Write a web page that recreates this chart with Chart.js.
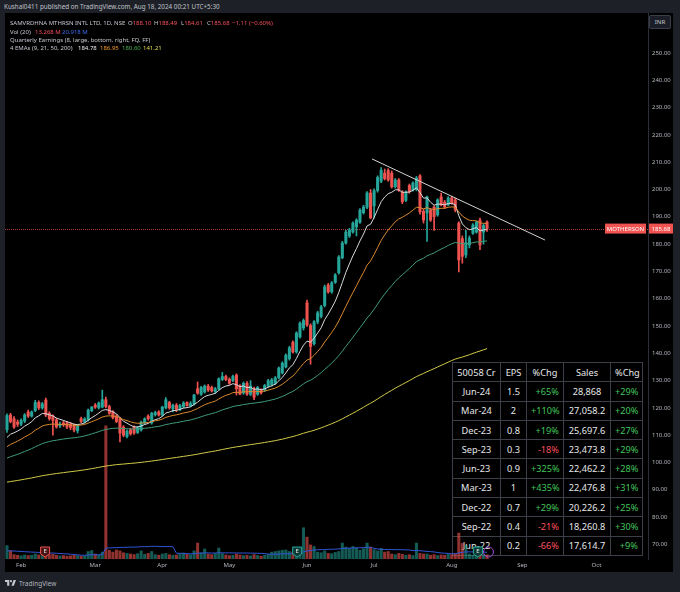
<!DOCTYPE html>
<html>
<head>
<meta charset="utf-8">
<script src="https://cdn.jsdelivr.net/npm/chart.js@4.4.1/dist/chart.umd.min.js"></script>
<style>
  html, body { margin: 0; padding: 0; width: 680px; height: 592px; overflow: hidden; background: #1d2027; font-family: "Noto Sans", Roboto, sans-serif; }
  #plotbg { position: absolute; left: 5px; top: 13px; width: 668px; height: 559px; background: #000; }
  #wrap { position: absolute; left: 5px; top: 13px; width: 668px; height: 559px; }
  .t { position: absolute; white-space: nowrap; line-height: 8px; font-size: 6px; color: #c3c6ce; }
  #earn { position: absolute; left: 452px; top: 362px; border-collapse: collapse; table-layout: fixed; background: #000; }
  #earn td { border: 1px solid #3c3f47; height: 19.3px; padding: 0 4px; box-sizing: border-box; font-size: 9.2px; color: #e6e7ea; text-align: center; white-space: nowrap; }
  #earn td.r { text-align: right; }
  #inr { position: absolute; left: 649px; top: 15px; width: 22px; height: 14px; box-sizing: border-box; border: 1px solid #3a3e48; border-radius: 2px; background: #1b1e26; color: #c3c6ce; font-size: 6px; line-height: 12px; text-align: center; }
  #foot { position: absolute; left: 5px; top: 578px; height: 10px; display: flex; align-items: center; gap: 3px; color: #b2b5be; font-size: 6.5px; }
</style>
</head>
<body>
<div id="plotbg"></div>
<table id="earn"></table>
<div id="wrap"><canvas id="chart" width="668" height="559"></canvas></div>

<div class="t" style="left:4px;top:3px;color:#c0c3ca;font-size:6.3px;">Kushal0411 published on TradingView.com, Aug 18, 2024 00:21 UTC+5:30</div>
<div class="t" style="left:10px;top:19px;">SAMVRDHNA MTHRSN INTL LTD, 1D, NSE</div>
<div class="t" style="left:128px;top:19px;">O<span style="color:#f7525f">188.10</span></div>
<div class="t" style="left:154px;top:19px;">H<span style="color:#f7525f">188.49</span></div>
<div class="t" style="left:181px;top:19px;">L<span style="color:#f7525f">184.61</span></div>
<div class="t" style="left:207px;top:19px;">C<span style="color:#f7525f">185.68</span></div>
<div class="t" style="left:232px;top:19px;color:#f7525f;">−1.11 (−0.60%)</div>
<div class="t" style="left:10px;top:28px;">Vol (20)</div>
<div class="t" style="left:35px;top:28px;color:#f7525f;">13.268 M</div>
<div class="t" style="left:62px;top:28px;color:#3f6ef0;">20.918 M</div>
<div class="t" style="left:10px;top:36px;">Quarterly Earnings (8, large, bottom, right, FQ, FF)</div>
<div class="t" style="left:10px;top:44px;">4 EMAs (9, 21, 50, 200)</div>
<div class="t" style="left:78px;top:44px;color:#e6e7ea;">184.78</div>
<div class="t" style="left:100px;top:44px;color:#f39c35;">186.95</div>
<div class="t" style="left:122px;top:44px;color:#4caf50;">180.60</div>
<div class="t" style="left:143px;top:44px;color:#e3dc4e;">141.21</div>
<div id="inr">INR</div>
<div id="foot">
  <svg width="11" height="8" viewBox="0 0 36 26"><path d="M14 22H7V10H0V3h14v19zM29 22h-8l7-19h8L29 22z" fill="#c3c6ce"/><circle cx="19.5" cy="7" r="3.6" fill="#c3c6ce"/></svg>
  <span>TradingView</span>
</div>

<script>
// daily candles, Jan 25 - Aug 16 2024 (one entry per trading day)
const opens = [
  112, 117.4, 116, 114.8, 114, 115.2, 118.5, 117, 119, 122,
  120, 122.9, 118, 117, 115.6, 113.5, 114.5, 114.5, 114, 113.7,
  111.6, 116, 115, 115.6, 119, 121, 120, 120.3, 123, 120.5,
  118.5, 117, 116, 113, 109.5, 112, 113, 111, 111.9, 114.5,
  117, 114.5, 117.5, 118.5, 117.4, 120, 122, 119.6, 121, 119.5,
  120.5, 122, 120.8, 121.4, 127, 125, 125.8, 128, 127.5, 126,
  127, 130.4, 131.5, 130.5, 130, 132, 128, 125.5, 129, 125,
  127, 125, 126.5, 126.6, 128, 128.5, 129, 131, 132.8, 135,
  138, 144, 140.5, 146, 149.3, 158.5, 150.2, 143.5, 151.5, 153.5,
  157.5, 165, 162.5, 166, 169.5, 175, 180.4, 183, 184.4, 186.3,
  188, 191.5, 193.5, 198.7, 194, 199.6, 203, 206, 207, 206,
  201, 203.5, 199, 196, 201.5, 199.8, 200, 205, 192, 191.4,
  192.5, 193.6, 190.7, 197.3, 195.4, 194.4, 196.9, 196.2, 187.7, 182,
  176, 179.7, 184, 184.4, 188.8, 184.4, 188.10
];
const highs = [
  117.8, 118, 116.8, 115.6, 116, 117.9, 119.2, 118.9, 122.8, 122.6,
  122, 123.6, 118.6, 117.5, 116.2, 114.8, 115.2, 115, 114.6, 114.2,
  114, 116.6, 116.4, 119.6, 120.5, 121.6, 122.2, 126.5, 124, 121,
  119, 117.6, 116.5, 113.5, 112, 112.5, 113.4, 113.2, 115.2, 116.4,
  117.5, 118.4, 118.8, 119, 120.6, 123.8, 122.4, 121.4, 121.6, 121.3,
  122.3, 122.2, 122.3, 125, 129.5, 127.9, 128.4, 128.6, 128, 127.5,
  131, 133, 132, 131, 132, 132.5, 128.5, 129.5, 129.6, 130,
  127.6, 127.9, 127, 128.6, 130.5, 130.8, 131.5, 135, 136.9, 139.8,
  142.6, 144.6, 147.9, 151.5, 152.6, 159.5, 150.8, 152, 155.4, 157.6,
  165, 165.6, 166.3, 169.2, 175.8, 181, 185, 185.8, 188.2, 189.3,
  193, 194.2, 199.2, 200, 200.2, 205, 208, 207.5, 207.6, 206.8,
  204, 204, 199.6, 199.5, 202, 202.8, 204.8, 205.5, 192.8, 197.6,
  193, 194, 196.6, 198.7, 196, 197.4, 197.5, 196.8, 188.2, 183,
  185, 183, 187.5, 188.4, 189.5, 187.4, 188.49
];
const lows = [
  111, 114.5, 112.5, 113.2, 113.5, 114.6, 116.5, 116.6, 118.6, 119.4,
  119.5, 116.8, 115.5, 110, 112.6, 112.8, 113.2, 112.4, 112, 111.2,
  110.8, 114.6, 114.5, 115.2, 118.6, 119.8, 119.6, 120, 120, 117.6,
  116, 114.6, 107.5, 109.4, 109, 110, 110.3, 110.6, 111.5, 114,
  115.5, 114, 117, 117, 117, 119.6, 119.5, 118.5, 118.6, 119,
  120, 120.6, 120.4, 121, 125, 124.6, 125.4, 126, 125.8, 125.4,
  126.6, 130, 130, 128.6, 129.6, 124.7, 124.8, 125, 124.6, 124.5,
  123, 124.6, 125, 126, 127.6, 128, 128.6, 130.6, 132.4, 134.6,
  137.5, 140, 140, 145.5, 148.5, 149.8, 136, 143, 150.8, 153,
  157, 162, 162, 165.6, 169, 174.6, 180, 182.4, 184, 183,
  187.6, 191, 193, 189.3, 189.5, 199, 202.5, 203.5, 203, 200.5,
  200.5, 199.3, 194.8, 195.5, 198.6, 199.4, 199.5, 191, 187.7, 181,
  188.3, 185, 190.2, 194, 193, 194, 194.6, 191.8, 169.8, 173,
  175, 178.6, 183.5, 184, 178, 180, 184.61
];
const closes = [
  117.2, 115, 113, 114, 115.4, 117.4, 117, 118.5, 122, 120,
  121.5, 117.4, 116, 115.5, 113, 114, 113.8, 113, 112.8, 111.9,
  113.5, 115, 116, 119.2, 120.3, 120.3, 121.8, 123, 120.5, 118,
  116.4, 115, 110.8, 110, 111.5, 110.5, 110.8, 112.8, 114.8, 116,
  116, 118, 118.3, 117.4, 120.3, 123, 120, 121, 119.5, 120.9,
  121.8, 120.8, 121.6, 124.7, 125.4, 127.5, 128, 126.5, 126.2, 127,
  130.7, 131.5, 130.4, 129, 131.5, 127, 125, 129, 125, 128,
  123.9, 127.5, 125.5, 128.2, 130, 130.3, 131, 134.6, 136.4, 139.3,
  142, 140.5, 147.4, 151, 152, 150.4, 142.5, 151.5, 154.8, 157,
  164.3, 162.5, 165.8, 168.7, 175.3, 180.4, 184.4, 185.2, 187.7, 188.8,
  192.5, 193.6, 198.7, 189.6, 199.6, 204.4, 207, 204, 203.5, 201,
  203.5, 199.8, 195.5, 199, 199.3, 202.4, 204.2, 191.8, 188.8, 197.3,
  188.8, 190, 196.2, 194.4, 193.6, 196.9, 195, 192.5, 174.2, 175.5,
  180.5, 182.2, 187, 188, 179.7, 186.79, 185.68
];
// volume in millions of shares
const volumes = [
  43, 27, 14, 12, 10, 13, 11, 12, 16, 13,
  12, 18, 14, 15, 12, 10, 11, 9, 10, 12,
  11, 9, 10, 24, 27, 16, 12, 22, 426, 28,
  22, 29, 26, 20, 18, 16, 14, 17, 26, 15,
  18, 24, 14, 12, 16, 18, 14, 12, 13, 17,
  19, 15, 14, 26, 51, 20, 32, 16, 14, 18,
  35, 17, 13, 11, 12, 16, 13, 11, 12, 10,
  14, 11, 9, 12, 15, 22, 24, 26, 28, 29,
  24, 22, 30, 34, 100, 70, 45, 40, 22, 20,
  26, 18, 17, 21, 24, 51, 38, 34, 40, 36,
  28, 33, 51, 38, 30, 26, 34, 22, 24, 16,
  14, 18, 15, 12, 14, 11, 51, 18, 16, 16,
  12, 14, 11, 13, 12, 15, 14, 18, 83, 50,
  44, 16, 12, 10, 18, 14, 13.268
];

const monthIdx = [4, 25, 44, 63, 85, 104, 126, 146, 167];
const monthLabels = ['Feb', 'Mar', 'Apr', 'May', 'Jun', 'Jul', 'Aug', 'Sep', 'Oct'];
const priceTicks = [70, 80, 90, 100, 110, 120, 130, 140, 150, 160, 170, 180, 190, 200, 210, 220, 230, 240, 250];

const emaPeriods = [9, 21, 50, 200];
const emaFirst = [109.2, 105.8, 101.6, 92.8];   // indicator values at the first visible bar
const emaColors = ['#d8dade', '#d98a2e', '#3f9c78', '#d2cb48'];
const volMaFirst = 25;

const trendIdx = [103.4, 152.4];
const trendPrice = [211.2, 181.5];

const earnIdx = [10.8, 82.2, 133.4];
const earnBeat = [false, true, true];

const tableHead = ['50058 Cr', 'EPS', '%Chg', 'Sales', '%Chg'];
const quarters = ['Jun-24', 'Mar-24', 'Dec-23', 'Sep-23', 'Jun-23', 'Mar-23', 'Dec-22', 'Sep-22', 'Jun-22'];
const eps = ['1.5', '2', '0.8', '0.3', '0.9', '1', '0.7', '0.4', '0.2'];
const epsChg = ['+65%', '+110%', '+19%', '-18%', '+325%', '+435%', '+29%', '-21%', '-66%'];
const sales = ['28,868', '27,058.2', '25,697.6', '23,473.8', '22,462.2', '22,476.8', '20,226.2', '18,260.8', '17,614.7'];
const salesChg = ['+29%', '+20%', '+27%', '+29%', '+28%', '+31%', '+25%', '+30%', '+9%'];

// ---- table
const colW = [48, 26, 37, 47, 32];
const tbl = document.getElementById('earn');
let html = '<colgroup>' + colW.map(w => `<col style="width:${w}px">`).join('') + '</colgroup>';
html += '<tr>' + tableHead.map(h => `<td>${h}</td>`).join('') + '</tr>';
const pc = s => `color:${s.startsWith('-') ? '#f7525f' : '#43c35b'}`;
quarters.forEach((q, i) => {
  html += `<tr><td>${q}</td><td>${eps[i]}</td><td class="r" style="${pc(epsChg[i])}">${epsChg[i]}</td>` +
          `<td>${sales[i]}</td><td class="r" style="${pc(salesChg[i])}">${salesChg[i]}</td></tr>`;
});
tbl.innerHTML = html;
tbl.style.width = colW.reduce((a, b) => a + b, 0) + 'px';

// ---- indicators
function emaSeries(src, period, first) {
  const k = 2 / (period + 1);
  const out = [first];
  for (let i = 1; i < src.length; i++) out.push(out[i - 1] + k * (src[i] - out[i - 1]));
  return out;
}
function smaSeries(src, n, before) {
  return src.map((_, i) => {
    const w = src.slice(Math.max(0, i - n + 1), i + 1);
    while (w.length < n) w.push(before);
    return w.reduce((a, b) => a + b, 0) / n;
  });
}

const UP = '#26a69a', DOWN = '#ef5350';
const isUp = closes.map((c, i) => c >= opens[i]);
const pts = arr => arr.map((v, i) => ({ x: i, y: v }));

const xMin = -0.567, xMax = 181.6;
const yMin = 64.65, yMax = 264.65;
const volMax = 1747;

const datasets = [
  {
    type: 'bar', yAxisID: 'yv', order: 20, grouped: false, barThickness: 2.4,
    data: pts(volumes),
    backgroundColor: isUp.map(u => u ? 'rgba(38,166,154,0.55)' : 'rgba(239,83,80,0.6)')
  },
  {
    type: 'line', yAxisID: 'yv', order: 19, data: pts(smaSeries(volumes, 20, volMaFirst)),
    borderColor: '#2f56d8', borderWidth: 1, pointRadius: 0
  },
  {
    type: 'bar', order: 12, grouped: false, barThickness: 1,
    data: lows.map((l, i) => ({ x: i, y: [l, highs[i]] })),
    backgroundColor: isUp.map(u => u ? UP : DOWN)
  },
  {
    type: 'bar', order: 11, grouped: false, barThickness: 2.4, minBarLength: 1,
    data: opens.map((o, i) => ({ x: i, y: [o, closes[i]] })),
    backgroundColor: isUp.map(u => u ? UP : DOWN)
  }
];
emaPeriods.forEach((p, k) => {
  datasets.push({
    type: 'line', order: 8 - k, data: pts(emaSeries(closes, p, emaFirst[k])),
    borderColor: emaColors[k], borderWidth: 1, pointRadius: 0
  });
});
datasets.push({
  type: 'line', order: 1,
  data: trendIdx.map((x, i) => ({ x, y: trendPrice[i] })),
  borderColor: '#d4d4d4', borderWidth: 1, pointRadius: 0
});

// last price line, symbol/price labels, earnings badges
const overlay = {
  id: 'overlay',
  beforeDatasetsDraw(chart) {
    const { ctx, chartArea: a, scales: { y } } = chart;
    const py = Math.round(y.getPixelForValue(closes[closes.length - 1])) + 0.5;
    ctx.save();
    ctx.strokeStyle = 'rgba(239,83,80,0.7)';
    ctx.lineWidth = 1;
    ctx.setLineDash([1, 1]);
    ctx.beginPath(); ctx.moveTo(a.left, py); ctx.lineTo(a.right, py); ctx.stroke();
    ctx.restore();
  },
  afterDatasetsDraw(chart) {
    const { ctx, chartArea: a, scales: { x, y } } = chart;
    const last = closes[closes.length - 1];
    const py = y.getPixelForValue(last);
    ctx.save();
    ctx.font = '6px "Noto Sans", sans-serif';
    ctx.textBaseline = 'middle';
    ctx.textAlign = 'center';
    ctx.fillStyle = '#f05350';
    ctx.fillRect(600, py - 5, 41, 10);
    ctx.fillRect(a.right + 1, py - 5, 24, 10);
    ctx.fillStyle = '#fff';
    ctx.fillText('MOTHERSON', 620.5, py + 0.5);
    ctx.fillText(last.toFixed(2), a.right + 13, py + 0.5);

    // upcoming earnings ring
    const rx = x.getPixelForValue(136.4);
    ctx.strokeStyle = '#9b4fd6';
    ctx.lineWidth = 1;
    ctx.beginPath(); ctx.arc(rx, a.bottom - 7, 5, 0, Math.PI * 2); ctx.stroke();

    earnIdx.forEach((ix, k) => {
      const bx = x.getPixelForValue(ix), top = a.bottom - 12;
      const col = earnBeat[k] ? '#26a69a' : '#ef5350';
      ctx.beginPath();
      ctx.moveTo(bx - 4.5, top); ctx.lineTo(bx + 4.5, top); ctx.lineTo(bx + 4.5, top + 7);
      ctx.lineTo(bx, top + 10); ctx.lineTo(bx - 4.5, top + 7); ctx.closePath();
      ctx.fillStyle = earnBeat[k] ? '#0d3b36' : '#4a1515';
      ctx.fill();
      ctx.strokeStyle = col; ctx.stroke();
      ctx.fillStyle = '#e6e7ea';
      ctx.fillText('E', bx, top + 4.5);
    });
    ctx.restore();
  }
};

new Chart(document.getElementById('chart'), {
  type: 'bar',
  data: { datasets },
  options: {
    responsive: false,
    animation: false,
    events: [],
    layout: { padding: 0 },
    plugins: { legend: { display: false }, tooltip: { enabled: false } },
    elements: { line: { tension: 0 } },
    scales: {
      x: {
        type: 'linear', min: xMin, max: xMax, offset: false,
        grid: { display: false, drawTicks: false }, border: { display: false },
        afterBuildTicks: s => { s.ticks = monthIdx.map(v => ({ value: v })); },
        afterFit: s => { s.height = 13; s.paddingLeft = 0; s.paddingRight = 0; },
        ticks: {
          autoSkip: false, maxRotation: 0, padding: 3, color: '#b2b5be',
          font: { size: 6, family: '"Noto Sans", sans-serif' },
          callback: v => monthLabels[monthIdx.indexOf(v)] || ''
        }
      },
      y: {
        position: 'right', min: yMin, max: yMax,
        grid: { display: false, drawTicks: false }, border: { display: true, color: '#2a2e39' },
        afterBuildTicks: s => { s.ticks = priceTicks.map(v => ({ value: v })); },
        afterFit: s => { s.width = 25; s.paddingTop = 0; s.paddingBottom = 0; },
        ticks: {
          padding: 4, color: '#b2b5be',
          font: { size: 6, family: '"Noto Sans", sans-serif' },
          callback: v => Number(v).toFixed(2)
        }
      },
      yv: { display: false, min: 0, max: volMax }
    }
  },
  plugins: [overlay]
});
</script>
</body>
</html>
